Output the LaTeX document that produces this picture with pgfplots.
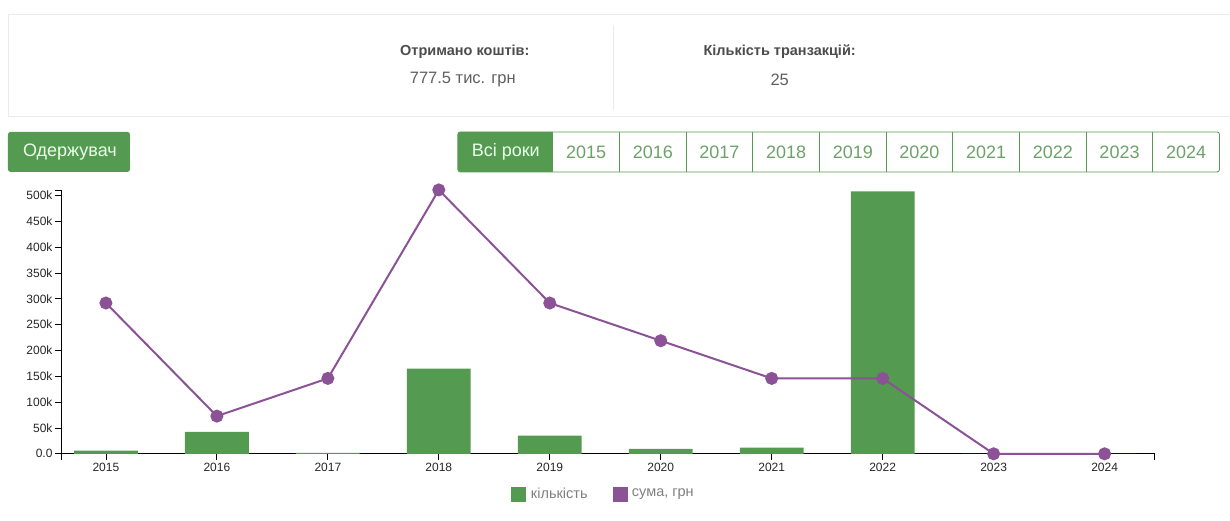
\documentclass[border=0pt]{standalone}
\usepackage{fontspec}
\setmainfont{Liberation Sans}
\usepackage{pgfplots}
\pgfplotsset{compat=1.18}
\definecolor{grn}{RGB}{84,155,81}
\definecolor{yrtxt}{RGB}{108,162,105}
\definecolor{prp}{RGB}{139,82,150}
\definecolor{txt}{RGB}{95,95,95}
\definecolor{bord}{RGB}{232,236,236}
\begin{document}
\begin{tikzpicture}[x=1pt,y=1pt]
\path (0,0) rectangle (1230,521);
% summary panel
\draw[bord, line width=1pt] (1230,404) -- (8.5,404) -- (8.5,506) -- (1230,506);
\draw[bord, line width=1pt] (614,496) -- (614,411);
\node[font=\bfseries\fontsize{14.5}{16}\selectfont, text=black!70] at (465,469) {Отримано коштів:};
\node[font=\fontsize{16.5}{18}\selectfont, text=txt] at (463,441) {777.5 тис. грн};
\node[font=\bfseries\fontsize{14.5}{16}\selectfont, text=black!70] at (780,469) {Кількість транзакцій:};
\node[font=\fontsize{16.5}{18}\selectfont, text=txt] at (780,441) {25};
% buttons
\fill[grn, rounded corners=2.5pt] (8,349) rectangle (130,389);
\node[font=\fontsize{18}{20}\selectfont, text=white!92!green] at (70,369) {Одержувач};
\begin{scope}
\clip (457,348) rectangle (553,390);
\fill[grn, rounded corners=2.5pt] (458,349) rectangle (580,389);
\end{scope}
\node[font=\fontsize{18}{20}\selectfont, text=white!92!green] at (506,369) {Всі роки};
\draw[grn, line width=0.8pt, rounded corners=2.5pt] (458,349) rectangle (1220,389);
\foreach \k/\yr in {0/2015,1/2016,2/2017,3/2018,4/2019,5/2020,6/2021,7/2022,8/2023,9/2024}{
  \node[font=\fontsize{18}{20}\selectfont, text=yrtxt] at ({553+33.35+66.7*\k},369) {\yr};
}
\foreach \k in {1,...,9}{
  \draw[grn, line width=0.8pt] ({553+66.7*\k},349) -- ({553+66.7*\k},389);
}
% chart
\begin{axis}[
  at={(61pt,67pt)}, anchor=south west,
  scale only axis, width=1094pt, height=264pt,
  xmin=-0.405, xmax=9.45, ymin=0, ymax=511000,
  axis lines*=left,
  axis line style={black, line width=0.9pt},
  xtick={0,...,9},
  xticklabels={2015,2016,2017,2018,2019,2020,2021,2022,2023,2024},
  ytick={0,50000,100000,150000,200000,250000,300000,350000,400000,450000,500000},
  yticklabels={0.0,50k,100k,150k,200k,250k,300k,350k,400k,450k,500k},
  scaled y ticks=false,
  tick align=outside, major tick length=6pt,
  tick style={black, line width=0.8pt},
  tick label style={font=\fontsize{12}{14}\selectfont, text=black!85},
  yticklabel style={xshift=1pt},
  clip=false,
]
\addplot[ybar, bar width=0.575, fill=grn, draw=none] coordinates {
  (0,6000) (1,42500) (2,2000) (3,165000) (4,35000) (5,9500) (6,12000) (7,508000) (8,0) (9,0)};
\addplot[prp, line width=2pt, mark=*, mark size=5.5pt, mark options={fill=prp, draw=prp}] coordinates {
  (0,292000) (1,73000) (2,146000) (3,511000) (4,292000) (5,219000) (6,146000) (7,146000) (8,0) (9,0)};
\draw[black, line width=0.8pt] (axis cs:-0.405,0) -- ++(0pt,-6pt);
\draw[black, line width=0.8pt] (axis cs:9.45,0) -- ++(0pt,-6pt);
\draw[black, line width=0.8pt] (axis cs:-0.405,511000) -- ++(-6pt,0pt);
\end{axis}
% legend
\fill[grn] (511,19) rectangle (526,34);
\node[anchor=west, font=\fontsize{14.5}{16}\selectfont, text=black!50, inner sep=0pt] at (531,27) {кількість};
\fill[prp] (613,19) rectangle (628,34);
\node[anchor=west, font=\fontsize{14.5}{16}\selectfont, text=black!50, inner sep=0pt] at (632,27) {сума, грн};
\end{tikzpicture}
\end{document}
